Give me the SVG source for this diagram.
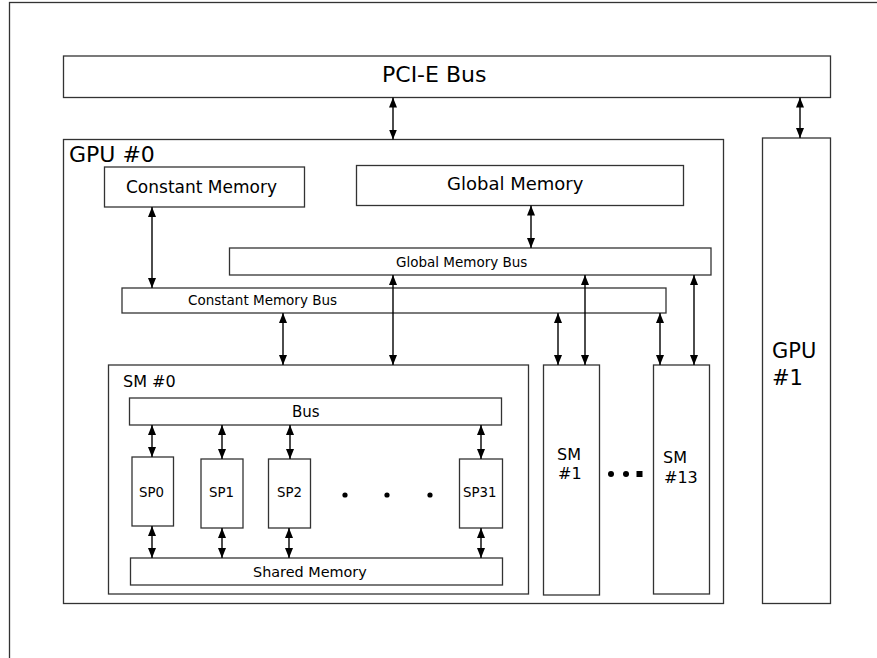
<svg xmlns="http://www.w3.org/2000/svg" width="877" height="658" viewBox="0 0 877 658">
<defs>
<marker id="ah" viewBox="0 0 10 8" refX="10" refY="4" markerWidth="10" markerHeight="8" markerUnits="userSpaceOnUse" orient="auto-start-reverse">
<path d="M0,0 L10,4 L0,8 z" fill="#000"/>
</marker>
</defs>
<style>
.b{fill:#fff;stroke:#333;stroke-width:1.3}
.t{font-family:"DejaVu Sans",sans-serif;fill:#000}
.a{stroke:#000;stroke-width:1.4;fill:none;marker-start:url(#ah);marker-end:url(#ah)}
</style>
<rect width="877" height="658" fill="#fff"/>
<rect x="9.5" y="2.5" width="900" height="700" fill="none" stroke="#333" stroke-width="1.3"/>

<g id="pcie"><rect class="b" x="63.5" y="56" width="767" height="41.5"/><text class="t" x="382" y="82" font-size="22">PCI-E Bus</text></g>
<g id="gpu0"><rect class="b" x="63.5" y="139.5" width="660" height="464"/><text class="t" x="69" y="162" font-size="22">GPU #0</text></g>
<g id="gpu1"><rect class="b" x="762.5" y="138" width="68" height="465.5"/><text class="t" x="772" y="358" font-size="21">GPU</text><text class="t" x="772" y="385" font-size="21">#1</text></g>
<g id="constmem"><rect class="b" x="104.5" y="167" width="200" height="40"/><text class="t" x="126" y="193" font-size="17">Constant Memory</text></g>
<g id="globalmem"><rect class="b" x="356.5" y="165.5" width="327" height="40"/><text class="t" x="447" y="190" font-size="18">Global Memory</text></g>
<g id="globalbus"><rect class="b" x="229.5" y="248" width="481.5" height="27"/><text class="t" x="396" y="267" font-size="13.5">Global Memory Bus</text></g>
<g id="constbus"><rect class="b" x="122" y="288" width="544" height="25"/><text class="t" x="188" y="305" font-size="13.5">Constant Memory Bus</text></g>
<g id="sm0"><rect class="b" x="108.5" y="365" width="420" height="229"/><text class="t" x="123" y="387" font-size="16">SM #0</text></g>
<g id="bus"><rect class="b" x="129.5" y="398" width="372" height="27"/><text class="t" x="292" y="417" font-size="15">Bus</text></g>
<g id="sp0"><rect class="b" x="132" y="457" width="41.5" height="69"/><text class="t" x="139" y="497" font-size="13.3">SP0</text></g>
<g id="sp1"><rect class="b" x="201" y="459" width="42" height="69"/><text class="t" x="209" y="497" font-size="13.3">SP1</text></g>
<g id="sp2"><rect class="b" x="268.5" y="459" width="42" height="69"/><text class="t" x="277" y="497" font-size="13.3">SP2</text></g>
<g id="sp31"><rect class="b" x="459.5" y="459" width="43" height="69"/><text class="t" x="463" y="497" font-size="13.3">SP31</text></g>
<g id="sharedmem"><rect class="b" x="130.5" y="558" width="372" height="27"/><text class="t" x="253" y="577" font-size="14.4">Shared Memory</text></g>
<g id="sm1"><rect class="b" x="543.5" y="365" width="56" height="230"/><text class="t" x="557" y="460" font-size="16">SM</text><text class="t" x="558" y="479" font-size="16">#1</text></g>
<g id="sm13"><rect class="b" x="653.5" y="365" width="56" height="229"/><text class="t" x="663" y="463" font-size="16">SM</text><text class="t" x="664" y="483" font-size="16">#13</text></g>

<g id="dots" fill="#000">
<circle cx="345" cy="495" r="2.6"/><circle cx="387" cy="495" r="2.6"/><circle cx="430" cy="495" r="2.6"/>
<circle cx="611" cy="474" r="3"/><circle cx="626" cy="474" r="3"/><rect x="636.5" y="471" width="6" height="6"/>
</g>

<g id="connectors">
<line class="a" x1="393" y1="97.5" x2="393" y2="139.5"/>
<line class="a" x1="800" y1="97.5" x2="800" y2="138"/>
<line class="a" x1="152" y1="207" x2="152" y2="288"/>
<line class="a" x1="531" y1="205.5" x2="531" y2="248"/>
<line class="a" x1="283" y1="313" x2="283" y2="365"/>
<line class="a" x1="393" y1="275" x2="393" y2="365"/>
<line class="a" x1="558" y1="313" x2="558" y2="365"/>
<line class="a" x1="585" y1="275" x2="585" y2="365"/>
<line class="a" x1="660" y1="313" x2="660" y2="365"/>
<line class="a" x1="694" y1="275" x2="694" y2="365"/>
<line class="a" x1="152" y1="425" x2="152" y2="457"/>
<line class="a" x1="222" y1="425" x2="222" y2="459"/>
<line class="a" x1="290" y1="425" x2="290" y2="459"/>
<line class="a" x1="481" y1="425" x2="481" y2="459"/>
<line class="a" x1="152" y1="526" x2="152" y2="558"/>
<line class="a" x1="222" y1="528" x2="222" y2="558"/>
<line class="a" x1="289" y1="528" x2="289" y2="558"/>
<line class="a" x1="481" y1="528" x2="481" y2="558"/>
</g>
</svg>
